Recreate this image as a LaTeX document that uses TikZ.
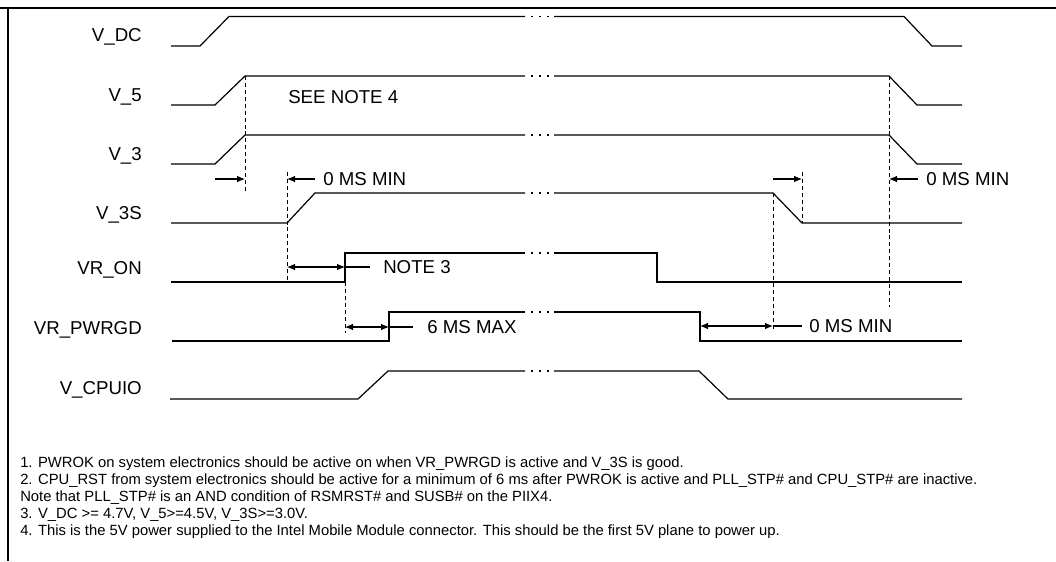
\documentclass[tikz,border=0pt]{standalone}
\usepackage{fontspec}
\setmainfont{Liberation Sans}
\usetikzlibrary{arrows.meta}
\begin{document}
\begin{tikzpicture}[x=0.75pt,y=-0.75pt,
  sig/.style={line width=0.9pt, line join=miter},
  guide/.style={line width=0.7pt, dash pattern=on 3pt off 2.2pt},
  dim/.style={line width=0.8pt, -{Latex[length=6pt,width=5pt]}},
  dimboth/.style={line width=0.8pt, {Latex[length=6pt,width=5pt]}-{Latex[length=6pt,width=5pt]}},
  lbl/.style={anchor=base east, font=\fontsize{14}{16}\selectfont, inner sep=0},
  ann/.style={anchor=base west, font=\fontsize{14}{16}\selectfont, inner sep=0},
  note/.style={anchor=base west, font=\fontsize{11.1}{12}\selectfont, inner sep=0}]
\useasboundingbox (0,0) rectangle (1056,561);
\fill[white] (0,0) rectangle (1056,561);
% frame
\draw[line width=2pt] (0,8) -- (1056,8);
\draw[line width=2pt] (8,8) -- (8,561);

% labels
\node[lbl] (lvdc)  at (142,41.5)  {V\_DC};
\node[lbl] (lv5)   at (142,101.5) {V\_5};
\node[lbl] (lv3)   at (142,160.5) {V\_3};
\node[lbl] (lv3s)  at (142,219.5) {V\_3S};
\node[lbl] (lvron) at (142,274.5) {VR\_ON};
\node[lbl] (lvrpg) at (142,334.5) {VR\_PWRGD};
\node[lbl] (lvcpu) at (142,394.5) {V\_CPUIO};

% signals
\draw[sig] (171,46)--(200,46)--(229,16.5)--(525,16.5);
\draw[sig] (554,16.5)--(904,16.5)--(932,46)--(962,46);
\draw[sig] (171,105)--(215,105)--(245,76)--(525,76);
\draw[sig] (554,76)--(889,76)--(917,105)--(962,105);
\draw[sig] (171,164)--(215,164)--(245,135)--(525,135);
\draw[sig] (554,135)--(889,135)--(917,164)--(962,164);
\draw[sig] (171,223)--(287,223)--(315,193)--(525,193);
\draw[sig] (554,193)--(773,193)--(802,223)--(962,223);
\draw[sig] (171,282)--(345,282)--(345,253)--(525,253);
\draw[sig] (554,253)--(657,253)--(657,282)--(962,282);
\draw[sig] (172,341)--(389,341)--(389,312)--(525,312);
\draw[sig] (554,312)--(700,312)--(700,341)--(962,341);
\draw[sig] (170,399)--(358,399)--(388,371)--(525,371);
\draw[sig] (554,371)--(699,371)--(728,399)--(962,399);
% break dots
\foreach \yy in {16.5,76,135,193,253,312,371}
  \foreach \xx in {532,540,548}
    \draw[line width=0.9pt] (\xx-0.7,\yy)--(\xx+0.7,\yy);

% guides
\draw[guide] (245,76)--(245,192);
\draw[guide] (287,172)--(287,280);
\draw[guide] (345,282)--(345,333);
\draw[guide] (773,193)--(773,330);
\draw[guide] (802,172)--(802,223);
\draw[guide] (889,76)--(889,307);

% dimension arrows
\coordinate (a1s) at (215,179); \coordinate (a1e) at (245,179);
\draw[dim] (a1s)--(a1e);
\coordinate (a2s) at (315,179); \coordinate (a2e) at (287,179);
\draw[dim] (a2s)--(a2e);
\node[ann] (t1) at (323,185.5) {0 MS MIN};
\coordinate (a3s) at (773,179); \coordinate (a3e) at (802,179);
\draw[dim] (a3s)--(a3e);
\coordinate (a4s) at (918,179); \coordinate (a4e) at (889,179);
\draw[dim] (a4s)--(a4e);
\node[ann] (t2) at (926,185.5) {0 MS MIN};

\coordinate (b1s) at (287,267); \coordinate (b1e) at (345,267); \coordinate (b1t) at (370,267);
\draw[dimboth] (b1s)--(b1e);
\draw[line width=0.8pt] (b1e)--(b1t);
\node[ann] (t3) at (383,273.5) {NOTE 3};

\coordinate (b2s) at (345,327); \coordinate (b2e) at (389,327); \coordinate (b2t) at (413,327);
\draw[dimboth] (b2s)--(b2e);
\draw[line width=0.8pt] (b2e)--(b2t);
\node[ann] (t4) at (427,333.5) {6 MS MAX};

\coordinate (b3s) at (700,326); \coordinate (b3e) at (773,326); \coordinate (b3t) at (802,326);
\draw[dimboth] (b3s)--(b3e);
\draw[line width=0.8pt] (b3e)--(b3t);
\node[ann] (t5) at (809,332.5) {0 MS MIN};

\node[ann] (t6) at (288,103.5) {SEE NOTE 4};

% notes
\node[note] (n1) at (20,467.5) {1. PWROK on system electronics should be active on when VR\_PWRGD is active and V\_3S is good.};
\node[note] (n2) at (20,484.5) {2. CPU\_RST from system electronics should be active for a minimum of 6 ms after PWROK is active and PLL\_STP\# and CPU\_STP\# are inactive.};
\node[note] (n3) at (20,501.5) {Note that PLL\_STP\# is an AND condition of RSMRST\# and SUSB\# on the PIIX4.};
\node[note] (n4) at (20,518.2) {3. V\_DC >= 4.7V, V\_5>=4.5V, V\_3S>=3.0V.};
\node[note] (n5) at (20,535) {4. This is the 5V power supplied to the Intel Mobile Module connector. This should be the first 5V plane to power up.};
\end{tikzpicture}
\end{document}
